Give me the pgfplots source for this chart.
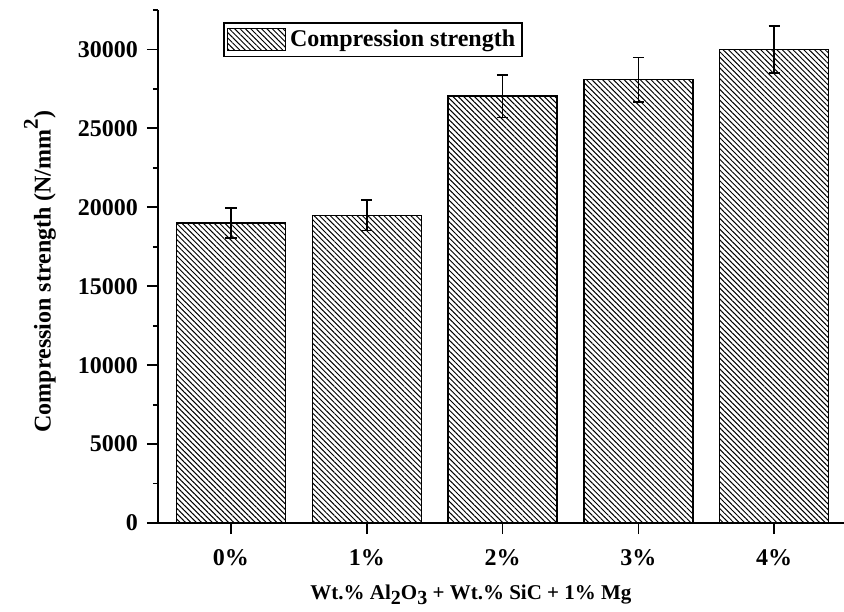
\documentclass[border=0pt]{standalone}
\usepackage{fontspec}
\setmainfont{Liberation Serif}
\usepackage{pgfplots}
\pgfplotsset{compat=1.18}
\usetikzlibrary{patterns.meta}

\pgfplotstableread{
x  y      err
0  19000  950
1  19500  980
2  27050  1350
3  28080  1400
4  30000  1500
}\strengthdata

\tikzset{hatch/.style={pattern={Lines[angle=-45,distance=1.9pt,line width=0.5pt]}}}

\begin{document}
\begin{tikzpicture}
\useasboundingbox (-79pt,-44pt) rectangle (343pt,261.5pt);
\begin{axis}[
  scale only axis,
  width=343pt, height=256.5pt,
  at={(0,0)}, anchor=south west,
  xmin=-0.5375, xmax=4.514,
  ymin=0, ymax=32500,
  axis x line*=bottom, axis y line*=left,
  axis line style={line width=0.9pt},
  tick align=outside,
  xtick={0,1,2,3,4},
  xticklabels={0\%,1\%,2\%,3\%,4\%},
  ytick={0,5000,10000,15000,20000,25000,30000},
  minor ytick={2500,7500,12500,17500,22500,27500,32500},
  scaled y ticks=false,
  major tick length=5.5pt, minor tick length=2.5pt,
  every tick/.style={black, line width=0.9pt},
  /pgf/number format/assume math mode=true,
  /pgf/number format/1000 sep={},
  tick label style={font=\fontsize{12}{14}\selectfont\bfseries},
  yticklabel style={xshift=-1pt},
  xticklabel style={yshift=-4pt},
  xlabel={Wt.\% Al\raisebox{-0.55ex}{\fontsize{10}{11}\selectfont 2}O\raisebox{-0.55ex}{\fontsize{10}{11}\selectfont 3} + Wt.\% SiC + 1\% Mg},
  ylabel={Compression strength (N/mm\raisebox{1.15ex}{\fontsize{10.5}{12}\selectfont 2})},
  xlabel style={font=\fontsize{10.5}{13}\selectfont\bfseries,
    at={(axis description cs:0.5,0)}, anchor=center, xshift=-15pt, yshift=-36pt},
  ylabel style={font=\fontsize{12}{14}\selectfont\bfseries,
    at={(axis description cs:-0.172,0.49)}, anchor=center},
  legend style={at={(rel axis cs:0.0948,0.9766)}, anchor=north west,
    draw=black, line width=0.8pt, inner sep=1.5pt,
    font=\fontsize{12}{14}\selectfont\bfseries},
  legend image code/.code={
    \draw[hatch, draw=black, line width=0.6pt] (0pt,-5.5pt) rectangle (29pt,5.5pt);
  },
  clip=false,
]
\addplot[ybar, bar width=54.5pt, draw=black, line width=0.7pt, hatch,
  error bars/.cd, y dir=both, y explicit,
  error bar style={line width=0.8pt, black},
  error mark options={rotate=90, mark size=2.8pt, line width=0.8pt, black}]
  table[x=x, y=y, y error=err] {\strengthdata};
\addlegendentry{Compression strength}
\end{axis}
\end{tikzpicture}
\end{document}
